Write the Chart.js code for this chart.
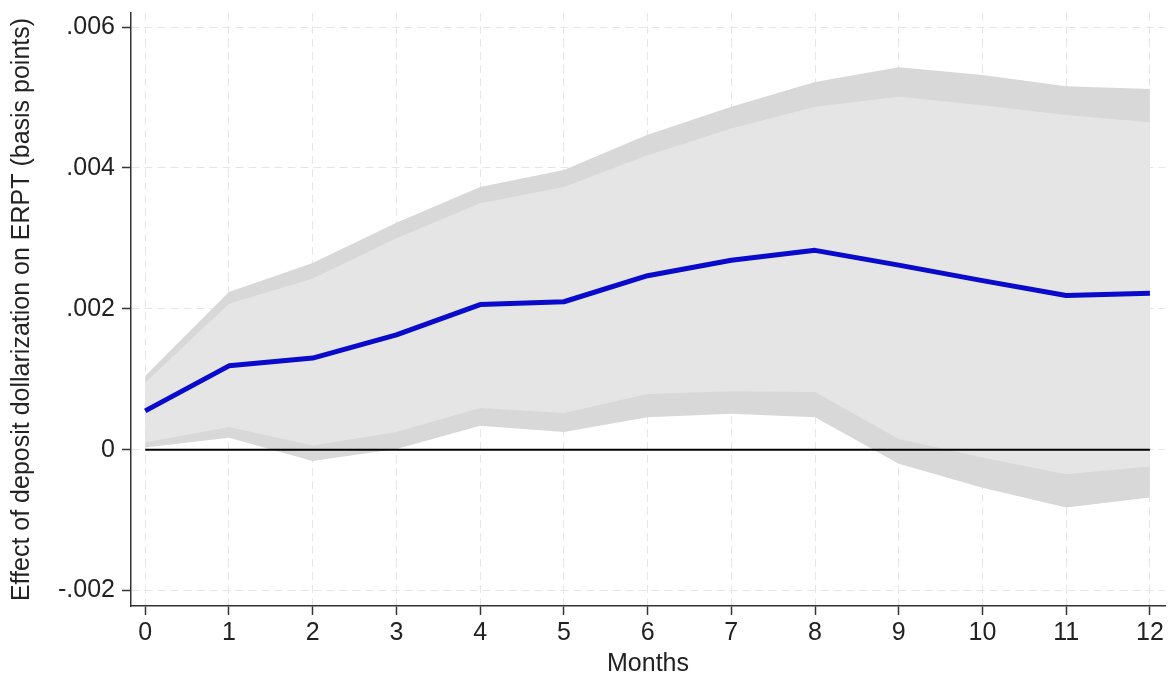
<!DOCTYPE html>
<html>
<head>
<meta charset="utf-8">
<script src="https://cdn.jsdelivr.net/npm/chart.js@4"></script>
<style>
  body { margin: 0; background: #fff; }
  #wrap { width: 1173px; height: 678px; }
</style>
</head>
<body>
<div id="wrap"><canvas id="irf_chart" width="1173" height="678"></canvas></div>
<script>
// values
const months = [0, 1, 2, 3, 4, 5, 6, 7, 8, 9, 10, 11, 12];
const irf   = [0.00055, 0.00119, 0.00130, 0.00163, 0.00206, 0.00210, 0.00247, 0.00269, 0.00283, 0.00262, 0.00240, 0.00219, 0.00222];
const hi95  = [0.00105, 0.00224, 0.00265, 0.00322, 0.00373, 0.00397, 0.00447, 0.00487, 0.00522, 0.00543, 0.00532, 0.00516, 0.00512];
const hi90  = [0.00095, 0.00207, 0.00243, 0.00300, 0.00350, 0.00373, 0.00418, 0.00456, 0.00487, 0.00501, 0.00489, 0.00475, 0.00465];
const lo90  = [0.00010, 0.00032, 0.00006, 0.00025, 0.00059, 0.00052, 0.00079, 0.00083, 0.00082, 0.00015, -0.00011, -0.00035, -0.00024];
const lo95  = [0.00003, 0.00017, -0.00016, 0.00001, 0.00034, 0.00025, 0.00046, 0.00051, 0.00046, -0.00020, -0.00054, -0.00082, -0.00068];

const xTicks = [0, 1, 2, 3, 4, 5, 6, 7, 8, 9, 10, 11, 12];
const yTicks = [-0.002, 0, 0.002, 0.004, 0.006];
const yTickLabels = ["-.002", "0", ".002", ".004", ".006"];

function pts(arr) {
    return months.map((m, i) => ({ x: m, y: arr[i] }));
}

const font = { family: "'Liberation Sans', Arial, sans-serif", size: 25, lineHeight: 1.2 };
const band = { pointRadius: 0, borderWidth: 0, tension: 0 };

const ctx = document.getElementById("irf_chart").getContext("2d");
const chart = new Chart(ctx, {
    type: "line",
    data: {
        datasets: [
            { ...band, data: pts(hi95), fill: "+1", backgroundColor: "#d8d8d8", order: 4 },
            { ...band, data: pts(lo95), fill: false, order: 4 },
            { ...band, data: pts(hi90), fill: "+1", backgroundColor: "#e5e5e5", order: 3 },
            { ...band, data: pts(lo90), fill: false, order: 3 },
            {
                data: [{ x: months[0], y: 0 }, { x: months[months.length - 1], y: 0 }],
                borderColor: "#000", borderWidth: 2, pointRadius: 0, fill: false, order: 2,
            },
            {
                data: pts(irf), borderColor: "#0a0acc", borderWidth: 5, pointRadius: 0,
                fill: false, tension: 0, order: 1, borderJoinStyle: "round",
            },
        ],
    },
    options: {
        responsive: false,
        animation: false,
        layout: { padding: { top: 13, right: 8, left: 0, bottom: 0 } },
        plugins: { legend: { display: false }, tooltip: { enabled: false } },
        scales: {
            x: {
                type: "linear",
                min: -0.17,
                max: 12.18,
                afterBuildTicks: (s) => { s.ticks = xTicks.map((v) => ({ value: v })); },
                afterFit: (s) => { s.height = 72; },
                grid: { color: "#e6e6e6", lineWidth: 1, tickLength: 9, tickColor: "#333", tickWidth: 1.5, tickBorderDash: [] },
                border: { color: "#333", width: 1.5, dash: [8, 5] },
                ticks: { color: "#222", font, padding: 3, maxRotation: 0, autoSkip: false },
                title: {
                    display: true, text: "Months", color: "#222",
                    font: { ...font, lineHeight: 1.1 }, padding: { top: 0, bottom: 0 },
                },
            },
            y: {
                type: "linear",
                min: -0.00222,
                max: 0.0062,
                afterBuildTicks: (s) => { s.ticks = yTicks.map((v) => ({ value: v })); },
                afterFit: (s) => { s.width = 131; s.paddingTop = 0; s.paddingBottom = 0; },
                grid: { color: "#e6e6e6", lineWidth: 1, tickLength: 9, tickColor: "#333", tickWidth: 1.5, tickBorderDash: [] },
                border: { color: "#333", width: 1.5, dash: [8, 5] },
                ticks: {
                    color: "#222", font, padding: 7, autoSkip: false,
                    callback: (v) => {
                        const i = yTicks.findIndex((t) => Math.abs(t - v) < 1e-9);
                        return i >= 0 ? yTickLabels[i] : "";
                    },
                },
                title: {
                    display: true, text: "Effect of deposit dollarization on ERPT (basis points)",
                    color: "#222", font, padding: { top: 7, bottom: 0 },
                },
            },
        },
    },
});
</script>
</body>
</html>
